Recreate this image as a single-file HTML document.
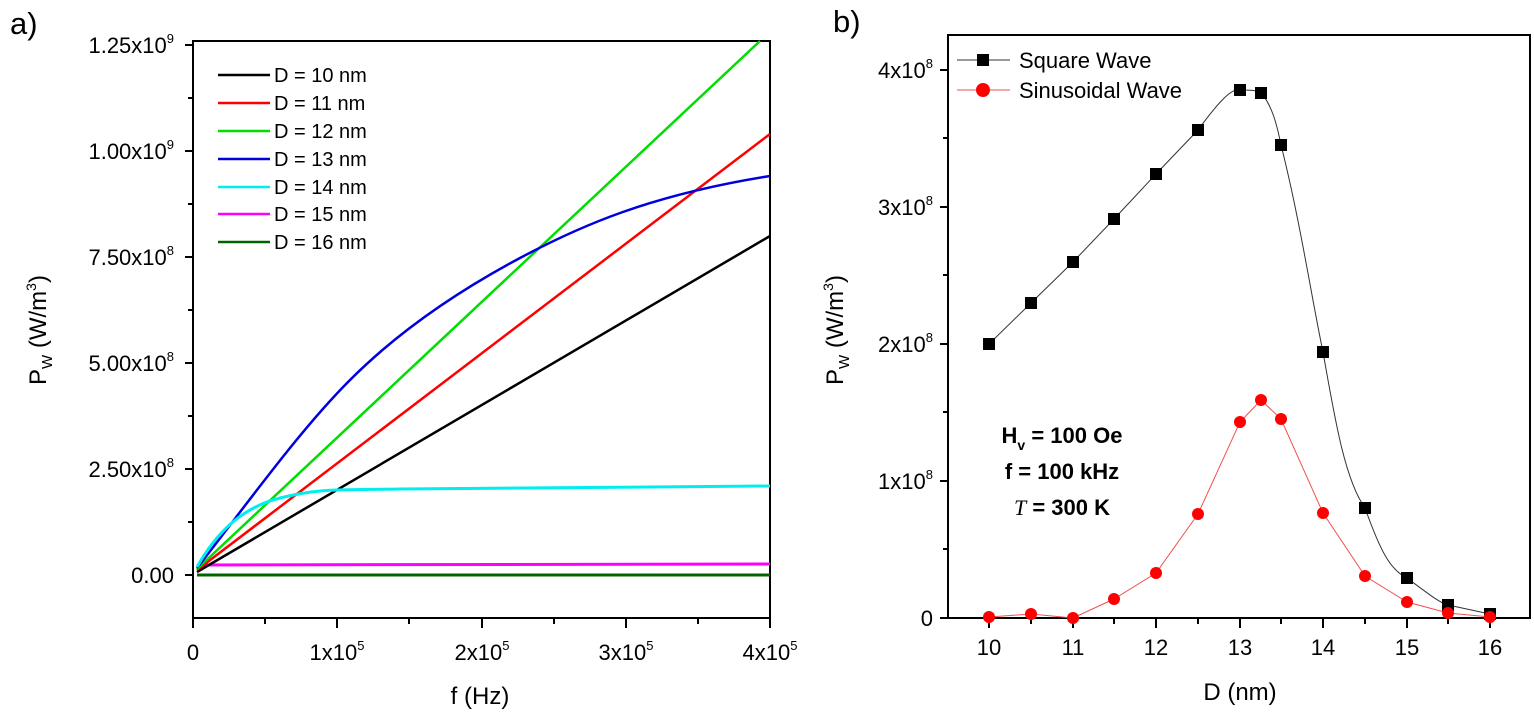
<!DOCTYPE html>
<html><head><meta charset="utf-8"><style>
html,body{margin:0;padding:0;background:#fff;}
svg{display:block;font-family:"Liberation Sans",Arial,sans-serif;}
</style></head><body>
<svg width="1534" height="718" viewBox="0 0 1534 718" xmlns="http://www.w3.org/2000/svg">
<!-- Panel a -->
<text x="10" y="34" font-size="31">a)</text>
<rect x="193" y="41" width="577" height="577" fill="none" stroke="#000" stroke-width="2"/>
<g stroke="#000" stroke-width="2">
<line x1="185" y1="45" x2="193" y2="45"/><line x1="188" y1="98" x2="193" y2="98"/>
<line x1="185" y1="151" x2="193" y2="151"/><line x1="188" y1="204" x2="193" y2="204"/>
<line x1="185" y1="257" x2="193" y2="257"/><line x1="188" y1="310" x2="193" y2="310"/>
<line x1="185" y1="363" x2="193" y2="363"/><line x1="188" y1="416" x2="193" y2="416"/>
<line x1="185" y1="469" x2="193" y2="469"/><line x1="188" y1="522" x2="193" y2="522"/>
<line x1="185" y1="575" x2="193" y2="575"/>
<line x1="193" y1="618" x2="193" y2="628"/><line x1="265" y1="618" x2="265" y2="624"/>
<line x1="337" y1="618" x2="337" y2="628"/><line x1="409" y1="618" x2="409" y2="624"/>
<line x1="482" y1="618" x2="482" y2="628"/><line x1="554" y1="618" x2="554" y2="624"/>
<line x1="626" y1="618" x2="626" y2="628"/><line x1="698" y1="618" x2="698" y2="624"/>
<line x1="770" y1="618" x2="770" y2="628"/>
</g>
<g font-size="22" text-anchor="end">
<text x="174" y="53">1.25x10<tspan font-size="13" dy="-10">9</tspan></text>
<text x="174" y="159">1.00x10<tspan font-size="13" dy="-10">9</tspan></text>
<text x="174" y="265">7.50x10<tspan font-size="13" dy="-10">8</tspan></text>
<text x="174" y="371">5.00x10<tspan font-size="13" dy="-10">8</tspan></text>
<text x="174" y="477">2.50x10<tspan font-size="13" dy="-10">8</tspan></text>
<text x="174" y="583">0.00</text>
</g>
<g font-size="22" text-anchor="middle">
<text x="193" y="660">0</text>
<text x="337" y="660">1x10<tspan font-size="13" dy="-10">5</tspan></text>
<text x="482" y="660">2x10<tspan font-size="13" dy="-10">5</tspan></text>
<text x="626" y="660">3x10<tspan font-size="13" dy="-10">5</tspan></text>
<text x="770" y="660">4x10<tspan font-size="13" dy="-10">5</tspan></text>
<text x="480" y="704" font-size="24">f (Hz)</text>
</g>
<text transform="translate(46,330) rotate(-90)" font-size="24" text-anchor="middle">P<tspan font-size="15" dy="6">W</tspan><tspan dy="-6"> (W/m</tspan><tspan font-size="14" dy="-10">3</tspan><tspan dy="10">)</tspan></text>
<g fill="none" stroke-width="2.5">
<line x1="197" y1="575" x2="770" y2="575" stroke="#006400" stroke-width="3"/>
<line x1="197" y1="565" x2="770" y2="564" stroke="#ff00ff" stroke-width="3"/>
<path d="M197,572 L770,236" stroke="#000"/>
<path d="M197,570 L770,134" stroke="#ff0000"/>
<path d="M197,569 L760,41" stroke="#00dd00"/>
<path d="M197,568 C250,500 300,430 350,380 S460,290 520,258 S650,195 770,176" stroke="#0000dd"/>
<path d="M197,567 C215,535 240,508 280,498 S340,490 400,489 L770,486" stroke="#00eeee" stroke-width="3"/>
</g>
<g font-size="20">
<line x1="218" y1="75" x2="270" y2="75" stroke="#000" stroke-width="2.5"/><text x="274" y="82">D = 10 nm</text>
<line x1="218" y1="103" x2="270" y2="103" stroke="#f00" stroke-width="2.5"/><text x="274" y="110">D = 11 nm</text>
<line x1="218" y1="131" x2="270" y2="131" stroke="#0d0" stroke-width="2.5"/><text x="274" y="138">D = 12 nm</text>
<line x1="218" y1="159" x2="270" y2="159" stroke="#00d" stroke-width="2.5"/><text x="274" y="166">D = 13 nm</text>
<line x1="218" y1="187" x2="270" y2="187" stroke="#0ee" stroke-width="2.5"/><text x="274" y="194">D = 14 nm</text>
<line x1="218" y1="214" x2="270" y2="214" stroke="#f0f" stroke-width="2.5"/><text x="274" y="221">D = 15 nm</text>
<line x1="218" y1="242" x2="270" y2="242" stroke="#006400" stroke-width="2.5"/><text x="274" y="249">D = 16 nm</text>
</g>

<!-- Panel b -->
<text x="833" y="32" font-size="31">b)</text>
<rect x="948" y="35" width="582" height="583" fill="none" stroke="#000" stroke-width="2"/>
<g stroke="#000" stroke-width="2">
<line x1="940" y1="618" x2="948" y2="618"/><line x1="943" y1="549" x2="948" y2="549"/>
<line x1="940" y1="481" x2="948" y2="481"/><line x1="943" y1="412" x2="948" y2="412"/>
<line x1="940" y1="344" x2="948" y2="344"/><line x1="943" y1="275" x2="948" y2="275"/>
<line x1="940" y1="207" x2="948" y2="207"/><line x1="943" y1="138" x2="948" y2="138"/>
<line x1="940" y1="70" x2="948" y2="70"/>
<line x1="989" y1="618" x2="989" y2="628"/><line x1="1031" y1="618" x2="1031" y2="624"/>
<line x1="1073" y1="618" x2="1073" y2="628"/><line x1="1114" y1="618" x2="1114" y2="624"/>
<line x1="1156" y1="618" x2="1156" y2="628"/><line x1="1198" y1="618" x2="1198" y2="624"/>
<line x1="1240" y1="618" x2="1240" y2="628"/><line x1="1281" y1="618" x2="1281" y2="624"/>
<line x1="1323" y1="618" x2="1323" y2="628"/><line x1="1365" y1="618" x2="1365" y2="624"/>
<line x1="1407" y1="618" x2="1407" y2="628"/><line x1="1448" y1="618" x2="1448" y2="624"/>
<line x1="1490" y1="618" x2="1490" y2="628"/>
</g>
<g font-size="22" text-anchor="end">
<text x="933" y="626">0</text>
<text x="933" y="489">1x10<tspan font-size="13" dy="-10">8</tspan></text>
<text x="933" y="352">2x10<tspan font-size="13" dy="-10">8</tspan></text>
<text x="933" y="215">3x10<tspan font-size="13" dy="-10">8</tspan></text>
<text x="933" y="78">4x10<tspan font-size="13" dy="-10">8</tspan></text>
</g>
<g font-size="22" text-anchor="middle">
<text x="989" y="655">10</text><text x="1073" y="655">11</text><text x="1156" y="655">12</text>
<text x="1240" y="655">13</text><text x="1323" y="655">14</text><text x="1407" y="655">15</text>
<text x="1490" y="655">16</text>
<text x="1240" y="700" font-size="24">D (nm)</text>
</g>
<text transform="translate(843,330) rotate(-90)" font-size="24" text-anchor="middle">P<tspan font-size="15" dy="6">W</tspan><tspan dy="-6"> (W/m</tspan><tspan font-size="14" dy="-10">3</tspan><tspan dy="10">)</tspan></text>
<path d="M989,344 L1031,303 L1073,262 L1114,219 L1156,174 L1198,130 C1220,100 1232,88 1240,90 C1250,90 1256,90 1261,93 C1272,105 1277,125 1281,145 C1300,220 1312,300 1323,352 C1335,420 1345,480 1365,508 C1380,550 1390,570 1407,578 C1430,595 1440,603 1448,605 L1490,614" fill="none" stroke="#333" stroke-width="1"/>
<path d="M989,617 L1031,614 L1073,618 L1114,599 L1156,573 L1198,514 L1240,422 L1261,400 L1281,419 L1323,513 L1365,576 L1407,602 L1448,613 L1490,617" fill="none" stroke="#f05050" stroke-width="1"/>
<g fill="#000">
<rect x="983" y="338" width="12" height="12"/><rect x="1025" y="297" width="12" height="12"/>
<rect x="1067" y="256" width="12" height="12"/><rect x="1108" y="213" width="12" height="12"/>
<rect x="1150" y="168" width="12" height="12"/><rect x="1192" y="124" width="12" height="12"/>
<rect x="1234" y="84" width="12" height="12"/><rect x="1255" y="87" width="12" height="12"/>
<rect x="1275" y="139" width="12" height="12"/><rect x="1317" y="346" width="12" height="12"/>
<rect x="1359" y="502" width="12" height="12"/><rect x="1401" y="572" width="12" height="12"/>
<rect x="1442" y="599" width="12" height="12"/><rect x="1484" y="608" width="12" height="12"/>
</g>
<g fill="#ff0000">
<circle cx="989" cy="617" r="6"/><circle cx="1031" cy="614" r="6"/><circle cx="1073" cy="618" r="6"/>
<circle cx="1114" cy="599" r="6"/><circle cx="1156" cy="573" r="6"/><circle cx="1198" cy="514" r="6"/>
<circle cx="1240" cy="422" r="6"/><circle cx="1261" cy="400" r="6"/><circle cx="1281" cy="419" r="6"/>
<circle cx="1323" cy="513" r="6"/><circle cx="1365" cy="576" r="6"/><circle cx="1407" cy="602" r="6"/>
<circle cx="1448" cy="613" r="6"/><circle cx="1490" cy="617" r="6"/>
</g>
<line x1="957" y1="60" x2="1010" y2="60" stroke="#333" stroke-width="1"/>
<rect x="977" y="54" width="12" height="12" fill="#000"/>
<text x="1019" y="68" font-size="22">Square Wave</text>
<line x1="957" y1="90" x2="1010" y2="90" stroke="#f05050" stroke-width="1"/>
<circle cx="983" cy="90" r="7" fill="#f00"/>
<text x="1019" y="98" font-size="22">Sinusoidal Wave</text>
<g font-size="22" font-weight="bold" text-anchor="middle">
<text x="1062" y="443">H<tspan font-size="14" dy="7">v</tspan><tspan dy="-7"> = 100 Oe</tspan></text>
<text x="1062" y="479">f = 100 kHz</text>
<text x="1062" y="515"><tspan font-style="italic" font-weight="normal" font-family="Liberation Serif">T</tspan> = 300 K</text>
</g>
</svg>
</body></html>
